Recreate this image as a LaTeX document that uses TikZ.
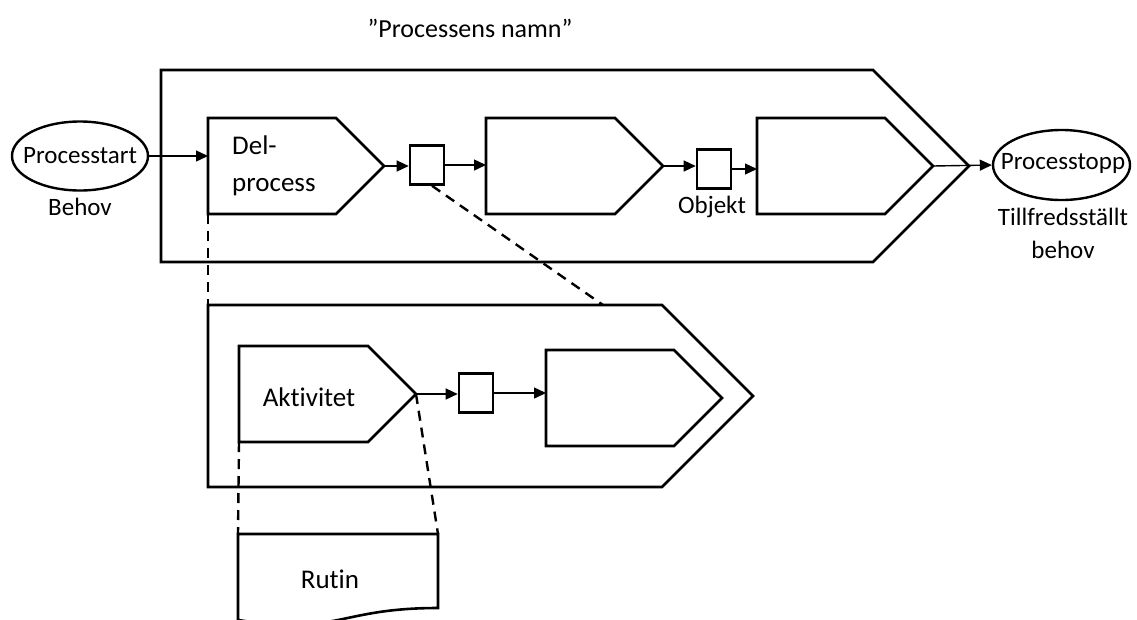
\documentclass[tikz,border=0pt]{standalone}
\usepackage{fontspec}
\setmainfont{Carlito}[Ligatures={NoCommon}]
\usetikzlibrary{arrows.meta,shapes.geometric,calc}
\newcommand{\mypent}[5]{%
  \draw[shp] (#2,#3) coordinate (#1-tl) -- ({#5-(#4-#3)/2},#3) -- (#5,{(#3+#4)/2}) coordinate (#1-tip) -- ({#5-(#4-#3)/2},#4) -- (#2,#4) coordinate (#1-bl) -- cycle;}
\begin{document}
\begin{tikzpicture}[x=1pt,y=-1pt,
  shp/.style={line width=2.6pt, line join=miter},
  arr/.style={line width=1.4pt,-{Triangle[length=12pt,width=11pt]}},
  dsh/.style={line width=2.4pt, dash pattern=on 10pt off 7pt},
  objbox/.style={draw,line width=2.6pt,minimum width=34pt,minimum height=39pt,inner sep=0pt},
  ell/.style={draw,ellipse,line width=2.4pt,minimum width=136pt,minimum height=69pt,inner sep=0pt},
  lbl/.style={font=\fontsize{25}{30}\selectfont,inner sep=0pt},
  plbl/.style={font=\fontsize{27}{37}\selectfont,inner sep=0pt}]
\clip (0,0) rectangle (1137,619);
\fill[white] (0,0) rectangle (1137,619);
% title
\node[font=\fontsize{26}{30}\selectfont, inner sep=0pt] (title) at (470,28) {”Processens namn”};
% pentagons
\mypent{outer}{161}{70}{262}{969}
\mypent{p1}{208}{118}{214}{384}
\mypent{p2}{486}{118}{214}{663}
\mypent{p3}{757}{118}{214}{933}
\mypent{low}{208}{305}{487}{753}
\mypent{akt}{239}{346}{442}{416}
\mypent{p5}{546}{350}{446}{722}
% object boxes
\node[objbox] (b1) at (427,165) {};
\node[objbox] (b2) at (714,169) {};
\node[objbox] (b3) at (476,393) {};
% start / stop
\node[ell] (ps) at (80,156) {};
\node[lbl] (pst) at (80,156) {Processtart};
\node[lbl] (behov) at (80,207) {Behov};
\node[ell, minimum width=137pt, minimum height=70pt] (pe) at (1061.5,165) {};
\node[lbl] (pet) at (1063,163) {Processtopp};
\node[lbl] (tf1) at (1063,217) {Tillfredsställt};
\node[lbl] (tf2) at (1063,250) {behov};
% labels
\node[plbl, align=left, anchor=west] (dp) at (232,166) {Del-\\process};
\node[lbl] (obj) at (712,207) {Objekt};
\node[plbl] (aktl) at (309,397) {Aktivitet};
% Rutin document
\draw[shp] (238,534) coordinate (rut-tl) -- (438,534) coordinate (rut-tr) -- (438,608) .. controls (338,608) and (338,636) .. (238,620) -- cycle;
\node[plbl] (rutin) at (330,579) {Rutin};
% arrows
\draw[arr] (ps.east) -- (ps.east -| p1-tl);
\draw[arr] (p1-tip) -- (p1-tip -| b1.west);
\draw[arr] (b1.east) -- (b1.east -| p2-tl);
\draw[arr] (p2-tip) -- (p2-tip -| b2.west);
\draw[arr] (b2.east) -- (b2.east -| p3-tl);
\draw[arr] (p3-tip) -- (pe.west);
\draw[arr] (akt-tip) -- (akt-tip -| b3.west);
\draw[arr] (b3.east) -- (b3.east -| p5-tl);
% dashed zoom lines
\coordinate (lowdash) at (603,305);
\draw[dsh] (p1-bl) -- (low-tl);
\draw[dsh] ([xshift=5pt]b1.south) -- (lowdash);
\draw[dsh] (akt-bl) -- (rut-tl);
\draw[dsh] (akt-tip) -- (rut-tr);
\end{tikzpicture}
\end{document}
